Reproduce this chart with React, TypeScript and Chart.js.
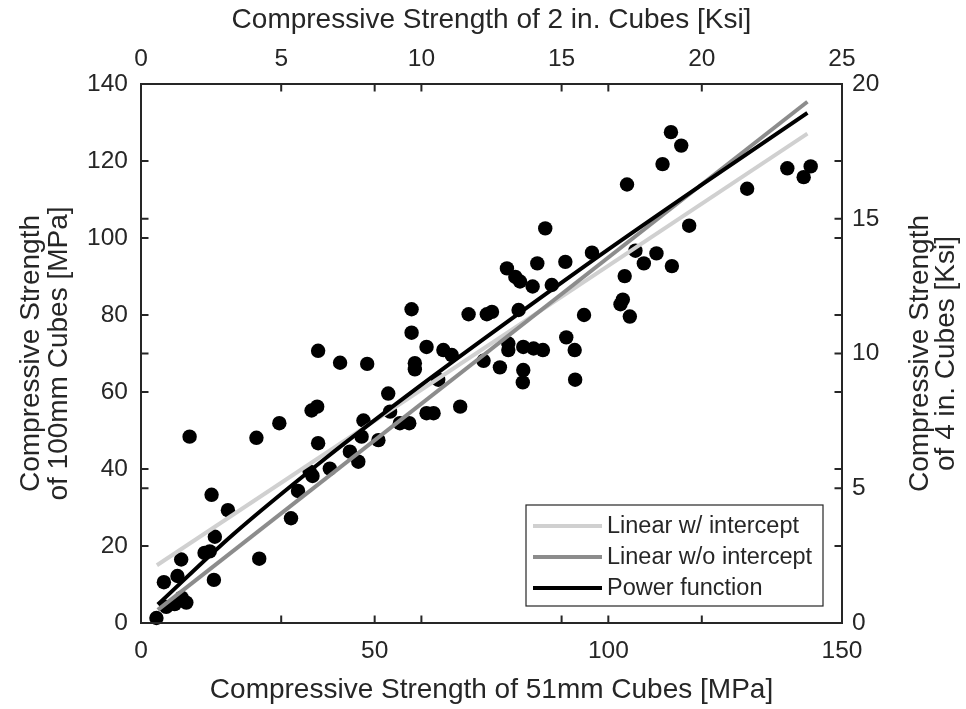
import React, { useEffect, useRef } from 'react';
import { Chart, registerables } from 'chart.js';

Chart.register(...registerables);

// ---- Data ----
// Measured pairs: 51 mm cube strength (x, MPa) vs 100 mm cube strength (y, MPa)
const strength51: number[] = [
  3.3, 4.9, 5.4, 7.2, 7.8, 8.6, 9.7, 8.7, 10.4, 13.6,
  14.7, 15.1, 15.6, 15.8, 18.6, 24.7, 25.3, 29.6, 32.1, 33.6,
  36.1, 36.7, 36.5, 37.7, 37.9, 37.9, 40.4, 42.6, 44.7, 46.5,
  47.2, 47.6, 48.4, 50.8, 52.9, 53.3, 55.4, 57.4, 57.9, 57.9,
  58.6, 58.6, 61.1, 61.1, 62.6, 63.6, 64.7, 66.5, 68.3, 70.1,
  73.3, 74.0, 75.1, 76.8, 78.3, 78.6, 78.6, 80.1, 80.8, 81.1,
  81.8, 81.8, 81.7, 83.8, 84.0, 84.8, 86.0, 86.5, 87.9, 90.8,
  91.0, 92.8, 92.9, 94.8, 96.5, 102.6, 103.1, 103.5, 104.0, 104.6,
  105.8, 107.6, 110.3, 111.6, 113.4, 113.6, 115.6, 117.3, 129.7, 138.3,
  141.8, 143.3,
];
const strength100: number[] = [
  1.3, 10.6, 4.2, 4.9, 12.2, 16.5, 5.3, 6.6, 48.4, 18.2,
  18.6, 33.3, 11.2, 22.4, 29.3, 48.1, 16.7, 51.9, 27.2, 34.3,
  39.3, 38.2, 55.2, 56.2, 46.7, 70.7, 40.1, 67.6, 44.5, 41.9,
  48.4, 52.6, 67.3, 47.5, 59.6, 54.9, 51.9, 51.9, 81.5, 75.4,
  67.5, 65.9, 71.7, 54.5, 54.5, 63.2, 70.9, 69.6, 56.2, 80.2,
  68.1, 80.2, 80.8, 66.4, 92.1, 72.6, 70.9, 89.9, 81.3, 88.7,
  71.7, 65.7, 62.5, 87.4, 71.3, 93.4, 70.9, 102.5, 87.8, 93.8,
  74.2, 70.9, 63.2, 80.0, 96.2, 82.8, 84.0, 90.1, 113.9, 79.6,
  96.7, 93.4, 96.0, 119.2, 127.5, 92.7, 124.0, 103.2, 112.8, 118.1,
  115.8, 118.6,
];

// Fitted curves (end points / samples)
const linIntX = [3.4, 142.6];
const linIntY = [15.0, 127.1];
const linNoIntX = [3.6, 142.6];
const linNoIntY = [3.4, 135.4];
const powerX = [3.6, 19.7, 39.7, 59.7, 79.7, 99.7, 119.7, 142.6];
const powerY = [4.8, 23.0, 43.0, 61.6, 79.4, 96.8, 113.6, 132.5];

// Axis ranges / tick steps
const xRange = [0, 150];
const xStep = 50;
const x2Range = [0, 25];
const x2Step = 5;
const yRange = [0, 140];
const yStep = 20;
const y2Range = [0, 20];
const y2Step = 5;

// Text
const xTitle = 'Compressive Strength of 51mm Cubes [MPa]';
const x2Title = 'Compressive Strength of 2 in. Cubes [Ksi]';
const yTitle = ['Compressive Strength', 'of 100mm Cubes [MPa]'];
const y2Title = ['Compressive Strength', 'of 4 in. Cubes [Ksi]'];
const legendLabels = ['Linear w/ intercept', 'Linear w/o intercept', 'Power function'];

// Styles
const TEXT = '#262626';
const FAMILY = "'Liberation Sans', Arial, Helvetica, sans-serif";
const seriesColors = ['#d0d0d0', '#8c8c8c', '#000000'];

const toPts = (xs: number[], ys: number[]) => xs.map((x, i) => ({ x, y: ys[i] }));

const framePlugin = {
  id: 'matlabFrame',
  afterDraw(chart: any) {
    const { ctx, chartArea: a, scales } = chart;
    ctx.save();
    // inward ticks on both opposite edges
    ctx.strokeStyle = TEXT;
    ctx.lineWidth = 2;
    const tl = 7.5;
    ['x', 'x2'].forEach((id) => {
      const s = scales[id];
      s.ticks.forEach((t: any) => {
        const px = s.getPixelForValue(t.value);
        if (px <= a.left + 1 || px >= a.right - 1) return;
        ctx.beginPath();
        ctx.moveTo(px, a.bottom);
        ctx.lineTo(px, a.bottom - tl);
        ctx.moveTo(px, a.top);
        ctx.lineTo(px, a.top + tl);
        ctx.stroke();
      });
    });
    ['y', 'y2'].forEach((id) => {
      const s = scales[id];
      s.ticks.forEach((t: any) => {
        const py = s.getPixelForValue(t.value);
        if (py <= a.top + 1 || py >= a.bottom - 1) return;
        ctx.beginPath();
        ctx.moveTo(a.left, py);
        ctx.lineTo(a.left + tl, py);
        ctx.moveTo(a.right, py);
        ctx.lineTo(a.right - tl, py);
        ctx.stroke();
      });
    });
    // box
    ctx.strokeRect(a.left, a.top, a.right - a.left, a.bottom - a.top);

    // right axis title (reads bottom-to-top)
    ctx.fillStyle = TEXT;
    ctx.font = `28px ${FAMILY}`;
    ctx.textAlign = 'center';
    ctx.textBaseline = 'middle';
    const cy = (a.top + a.bottom) / 2;
    ctx.save();
    ctx.translate(a.right + 78, cy);
    ctx.rotate(-Math.PI / 2);
    y2Title.forEach((line, i) => ctx.fillText(line, 0, i * 26.5));
    ctx.restore();

    // legend
    const bw = 297;
    const bh = 101;
    const bx = a.right - 19 - bw;
    const by = a.bottom - 17 - bh;
    ctx.fillStyle = '#ffffff';
    ctx.fillRect(bx, by, bw, bh);
    ctx.lineWidth = 1.2;
    ctx.strokeStyle = TEXT;
    ctx.strokeRect(bx, by, bw, bh);
    ctx.font = `23.5px ${FAMILY}`;
    ctx.textAlign = 'left';
    ctx.textBaseline = 'middle';
    legendLabels.forEach((label, i) => {
      const ry = by + 21 + i * 31;
      ctx.strokeStyle = seriesColors[i];
      ctx.lineWidth = 4;
      ctx.beginPath();
      ctx.moveTo(bx + 7, ry);
      ctx.lineTo(bx + 76, ry);
      ctx.stroke();
      ctx.fillStyle = TEXT;
      ctx.fillText(label, bx + 81, ry + 1);
    });
    ctx.restore();
  },
};

const tickFont = { family: FAMILY, size: 24.5 };
const titleFont = { family: FAMILY, size: 28, lineHeight: 1 };

export default function App() {
  const canvasRef = useRef<HTMLCanvasElement | null>(null);

  useEffect(() => {
    document.body.style.margin = '0';
    const canvas = canvasRef.current;
    if (!canvas) return;
    const chart = new Chart(canvas, {
      type: 'scatter',
      data: {
        datasets: [
          {
            type: 'line',
            label: legendLabels[2],
            data: toPts(powerX, powerY),
            borderColor: seriesColors[2],
            borderWidth: 4,
            pointRadius: 0,
            showLine: true,
            fill: false,
            cubicInterpolationMode: 'monotone',
            order: 1,
            xAxisID: 'x',
            yAxisID: 'y',
          } as any,
          {
            type: 'line',
            label: legendLabels[1],
            data: toPts(linNoIntX, linNoIntY),
            borderColor: seriesColors[1],
            borderWidth: 4,
            pointRadius: 0,
            showLine: true,
            fill: false,
            order: 2,
            xAxisID: 'x',
            yAxisID: 'y',
          } as any,
          {
            type: 'line',
            label: legendLabels[0],
            data: toPts(linIntX, linIntY),
            borderColor: seriesColors[0],
            borderWidth: 4,
            pointRadius: 0,
            showLine: true,
            fill: false,
            order: 3,
            xAxisID: 'x',
            yAxisID: 'y',
          } as any,
          {
            type: 'scatter',
            label: 'Data',
            data: toPts(strength51, strength100),
            backgroundColor: '#000000',
            borderWidth: 0,
            pointRadius: 7.2,
            pointHoverRadius: 7.2,
            order: 10,
            clip: false,
            xAxisID: 'x',
            yAxisID: 'y',
          } as any,
        ],
      },
      options: {
        responsive: false,
        animation: false,
        events: [],
        layout: { padding: 0 },
        plugins: {
          legend: { display: false },
          tooltip: { enabled: false },
          title: { display: false },
        },
        scales: {
          x: {
            type: 'linear',
            position: 'bottom',
            min: xRange[0],
            max: xRange[1],
            grid: { display: false, drawTicks: false },
            border: { display: false },
            ticks: { stepSize: xStep, padding: 14, color: TEXT, font: tickFont, maxRotation: 0 },
            title: { display: true, text: xTitle, color: TEXT, font: titleFont, padding: { top: 0, bottom: 5 } },
            afterFit: (s: any) => { s.height = 86; },
          },
          x2: {
            type: 'linear',
            axis: 'x',
            position: 'top',
            min: x2Range[0],
            max: x2Range[1],
            grid: { display: false, drawTicks: false },
            border: { display: false },
            ticks: { stepSize: x2Step, padding: 10, color: TEXT, font: tickFont, maxRotation: 0 },
            title: { display: true, text: x2Title, color: TEXT, font: titleFont, padding: { top: 6, bottom: 0 } },
            afterFit: (s: any) => { s.height = 84; },
          },
          y: {
            type: 'linear',
            position: 'left',
            min: yRange[0],
            max: yRange[1],
            grid: { display: false, drawTicks: false },
            border: { display: false },
            ticks: { stepSize: yStep, padding: 13, color: TEXT, font: tickFont },
            title: { display: true, text: yTitle, color: TEXT, font: titleFont, padding: { top: 17, bottom: 0 } },
            afterFit: (s: any) => { s.width = 141; },
          },
          y2: {
            type: 'linear',
            axis: 'y',
            position: 'right',
            min: y2Range[0],
            max: y2Range[1],
            grid: { display: false, drawTicks: false },
            border: { display: false },
            ticks: { stepSize: y2Step, padding: 10, color: TEXT, font: tickFont },
            title: { display: false },
            afterFit: (s: any) => { s.width = 124; },
          },
        },
      } as any,
      plugins: [framePlugin],
    });
    return () => chart.destroy();
  }, []);

  return (
    <div style={{ width: 966, height: 709, background: '#ffffff' }}>
      <canvas ref={canvasRef} width={966} height={709} style={{ display: 'block' }} />
    </div>
  );
}
